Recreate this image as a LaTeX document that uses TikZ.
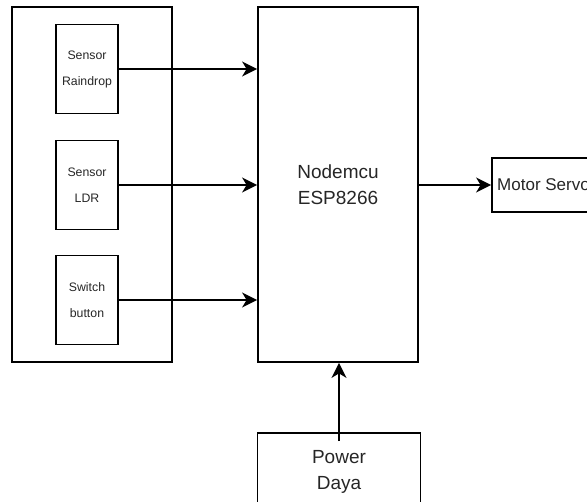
\documentclass[tikz,border=0pt]{standalone}
\usepackage{fontspec}
\setmainfont{Liberation Sans}
\usepackage{tikz}
\usetikzlibrary{positioning, arrows.meta}
\tikzset{>={Stealth[length=15pt, width=15pt, inset=4.5pt]}}
\tikzset{
    block/.style = {rectangle, draw, line width=1.8pt, align=center, inner sep=0pt,
                        text=black!85},
    part/.style = {block, minimum width=62pt, minimum height=89pt,
                        font=\fontsize{12.3}{26}\selectfont},
    unit/.style = {block, font=\fontsize{19}{26}\selectfont},
    link/.style = {->, line width=1.8pt}
}

\begin{document}
\begin{tikzpicture}[x=1pt, y=-1pt]
		\useasboundingbox (0,0) rectangle (587,502);
		\node (inputs) [block, minimum width=160pt, minimum height=355pt] at (92,184.5) {};
		\node (rain) [part] at (87,69) {Sensor\\Raindrop};
		\node (ldr) [part] at (87,185) {Sensor\\LDR};
		\node (switch) [part] at (87,300) {Switch\\button};
		\node (esp) [unit, minimum width=160pt, minimum height=355pt] at (338,184.5) {Nodemcu\\ESP8266};
		\node (motor) [block, minimum width=103pt, minimum height=54pt,
			font=\fontsize{17}{20}\selectfont] at (543.5,185) {Motor Servo};
		\node (power) [unit, minimum width=163pt, minimum height=78pt] at (339,472) {Power\\Daya};
		\draw [link] (rain.east) -- (esp.west |- rain.east);
		\draw [link] (ldr.east) -- (esp.west |- ldr.east);
		\draw [link] (switch.east) -- (esp.west |- switch.east);
		\draw [link] (esp.east |- motor.west) -- (motor.west);
		\draw [link] ([yshift=-9pt]power.north) -- (power.north |- esp.south);
	\end{tikzpicture}
\end{document}
